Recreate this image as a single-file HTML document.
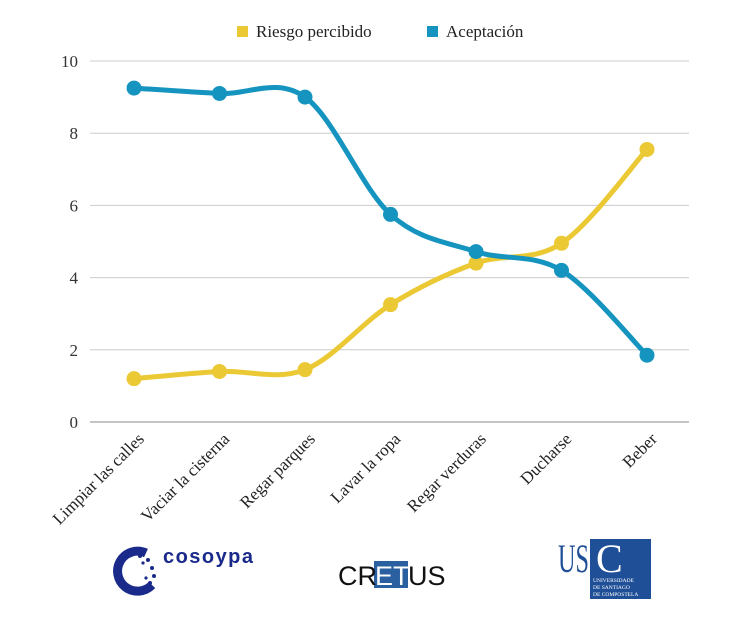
<!DOCTYPE html>
<html><head><meta charset="utf-8"><style>
body{margin:0;background:#fff;width:754px;height:623px;overflow:hidden;font-family:"Liberation Serif",serif}
</style></head><body>
<svg id="c" width="754" height="623" xmlns="http://www.w3.org/2000/svg">
<g id="grid"></g><g id="series"></g><g id="labels"></g>
<g font-size="17" fill="#222">
 <rect x="237" y="26" width="11" height="11" fill="#EBC934"/>
 <text x="256" y="37">Riesgo percibido</text>
 <rect x="427" y="26" width="11" height="11" fill="#1594C0"/>
 <text x="446" y="37">Aceptación</text>
</g>
<g>
 <path d="M146 553 A20 20 0 1 0 152 585" fill="none" stroke="#1a2a8a" stroke-width="9"/>
 <g fill="#1a2a8a"><circle cx="140" cy="556" r="2"/><circle cx="148" cy="560" r="2"/><circle cx="152" cy="568" r="2"/><circle cx="154" cy="576" r="2"/><circle cx="150" cy="583" r="2"/><circle cx="143" cy="563" r="1.6"/><circle cx="146" cy="578" r="1.6"/></g>
 <text x="163" y="563" font-family="Liberation Sans,sans-serif" font-weight="bold" font-size="20" textLength="90" fill="#1a2a8a">cosoypa</text>
</g>
<g font-family="Liberation Sans,sans-serif" font-size="27">
 <rect x="374" y="561" width="34" height="27" fill="#2a5fa0"/>
 <text x="338" y="585" fill="#111">CR</text><text x="375" y="585" fill="#fff">ET</text><text x="408" y="585" fill="#111">US</text>
</g>
<g>
 <text x="558" y="572" font-size="40" fill="#1f4f96" textLength="31" lengthAdjust="spacingAndGlyphs" font-family="Liberation Serif,serif">US</text>
 <rect x="590" y="539" width="61" height="60" fill="#1f4f96"/>
 <text x="596" y="572" font-size="40" fill="#fff">C</text>
 <text x="593" y="582" font-size="5.5" fill="#fff">UNIVERSIDADE</text>
 <text x="593" y="589" font-size="5.5" fill="#fff">DE SANTIAGO</text>
 <text x="593" y="596" font-size="5.5" fill="#fff">DE COMPOSTELA</text>
</g>
</svg>
<script>
const categories=["Limpiar las calles","Vaciar la cisterna","Regar parques","Lavar la ropa","Regar verduras","Ducharse","Beber"];
const riesgo=[1.2,1.4,1.45,3.25,4.4,4.95,7.55];
const aceptacion=[9.25,9.1,9.0,5.75,4.72,4.2,1.85];
const yTicks=[0,2,4,6,8,10];
const NS="http://www.w3.org/2000/svg";
const L=90,R=689,T=61,B=422;
const x0=134,x1=647;
const xs=i=>x0+(x1-x0)*i/(categories.length-1);
const ys=v=>B-(v/10)*(B-T);
function mk(t,a,p){const e=document.createElementNS(NS,t);for(const k in a)e.setAttribute(k,a[k]);p.appendChild(e);return e;}
const g=document.getElementById('grid'),s=document.getElementById('series'),lb=document.getElementById('labels');
yTicks.forEach(v=>{
 const ln=mk('line',{x1:L,x2:R,y1:ys(v),y2:ys(v),stroke:v===0?'#888':'#ccc','stroke-width':1},g);
 
 
 const t=mk('text',{x:78,y:ys(v)+6,'text-anchor':'end','font-size':17,fill:'#333'},lb);
 t.textContent=v;
 
 
});
categories.forEach((c,i)=>{
 const x=xs(i)+11,y=440;
 const t=mk('text',{x:x,y:y,'text-anchor':'end','font-size':17,fill:'#222',transform:`rotate(-45 ${x} ${y})`},lb);
 t.textContent=c;
 
 
});
function path(vals){
 const p=vals.map((v,i)=>[xs(i),ys(v)]);
 let d=`M${p[0][0]},${p[0][1]}`;
 for(let i=0;i<p.length-1;i++){
  const p0=p[i-1]||p[i],p1=p[i],p2=p[i+1],p3=p[i+2]||p2;
  const k=6;
  d+=` C${p1[0]+(p2[0]-p0[0])/k},${p1[1]+(p2[1]-p0[1])/k} ${p2[0]-(p3[0]-p1[0])/k},${p2[1]-(p3[1]-p1[1])/k} ${p2[0]},${p2[1]}`;
 }
 return d;
}
[[riesgo,'#EBC934','riesgo'],[aceptacion,'#1594C0','aceptacion']].forEach(([vals,col,nm])=>{
 const pa=mk('path',{d:path(vals),fill:'none',stroke:col,'stroke-width':5,'stroke-linecap':'round'},s);
 
 
 vals.forEach((v,i)=>{
  const c=mk('circle',{cx:xs(i),cy:ys(v),r:7.5,fill:col},s);
  
  
 });
});
</script>
</body></html>
